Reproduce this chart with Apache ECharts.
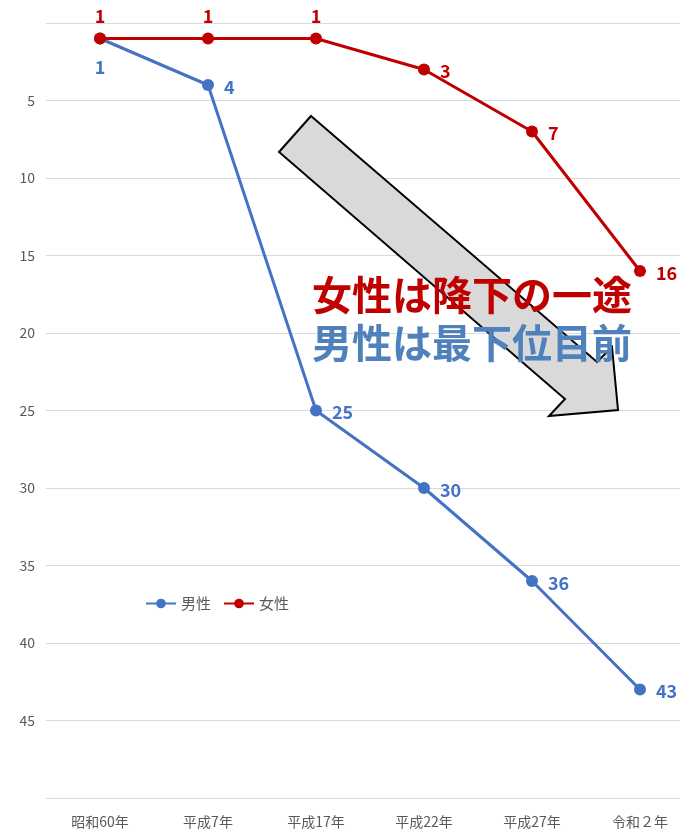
<!DOCTYPE html>
<html><head><meta charset="utf-8">
<script src="https://cdn.jsdelivr.net/npm/echarts@6/dist/echarts.min.js"></script>
<style>html,body{margin:0;padding:0;background:#fff;overflow:hidden;width:680px;height:832px}#c{width:694px;height:832px}</style>
</head><body><div id="c"></div>
<script>
const categories = ['昭和60年', '平成7年', '平成17年', '平成22年', '平成27年', '令和２年'];
const maleRank = [1, 4, 25, 30, 36, 43];
const femaleRank = [1, 1, 1, 3, 7, 16];
const seriesNames = ['男性', '女性'];
const headline1 = '女性は降下の一途';
const headline2 = '男性は最下位目前';

const BLUE = '#4472C4', RED = '#C00000';
const font = '"Noto Sans CJK JP", "Noto Sans", sans-serif';
const lbl = (c) => ({ show: true, color: c, fontSize: 18, fontWeight: 'bold', fontFamily: font, distance: 10 });
const sideLabel = { position: 'right', offset: [0, 2] };

const chart = echarts.init(document.getElementById('c'));
chart.setOption({
  animation: false,
  backgroundColor: '#fff',
  grid: { left: 46, top: 23, right: 0, bottom: 34, containLabel: false },
  legend: {
    left: 140, top: 591, itemWidth: 30, itemHeight: 12, itemGap: 12,
    textStyle: { color: '#595959', fontSize: 15, fontFamily: font },
    data: seriesNames
  },
  xAxis: {
    type: 'category', data: categories, boundaryGap: true,
    axisLine: { show: false }, axisTick: { show: false },
    axisLabel: { color: '#595959', fontSize: 14, fontFamily: font, margin: 17 }
  },
  yAxis: {
    type: 'value', min: 0, max: 50, interval: 5, inverse: true,
    axisLine: { show: false }, axisTick: { show: false },
    splitLine: { lineStyle: { color: '#D9D9D9', width: 1 } },
    axisLabel: { color: '#595959', fontSize: 14, fontFamily: font, margin: 11,
      formatter: v => (v === 0 || v === 50) ? '' : String(v) }
  },
  series: [
    {
      name: seriesNames[0], type: 'line', z: 3,
      data: maleRank.map((v, i) => ({ value: v, label: i === 0 ? { position: 'bottom', distance: 14 } : sideLabel })),
      symbol: 'circle', symbolSize: 12,
      lineStyle: { color: BLUE, width: 3 }, itemStyle: { color: BLUE },
      label: lbl(BLUE)
    },
    {
      name: seriesNames[1], type: 'line', z: 4,
      data: femaleRank.map((v, i) => ({ value: v, label: i < 3 ? { position: 'top', distance: 7 } : sideLabel })),
      symbol: 'circle', symbolSize: 12,
      lineStyle: { color: RED, width: 3 }, itemStyle: { color: RED },
      label: lbl(RED)
    }
  ],
  graphic: [
    {
      type: 'polygon', z: 10,
      shape: { points: [[311,116],[597,362],[612,347],[618,410],[549,416],[565,399],[279,152]] },
      style: { fill: '#D9D9D9', stroke: '#000', lineWidth: 2 }
    },
    {
      type: 'text', z: 11, left: 312, top: 275,
      style: { text: headline1, fill: RED, font: 'bold 40px ' + font }
    },
    {
      type: 'text', z: 11, left: 312, top: 323,
      style: { text: headline2, fill: '#4F81BD', font: 'bold 40px ' + font }
    }
  ]
});
</script></body></html>
